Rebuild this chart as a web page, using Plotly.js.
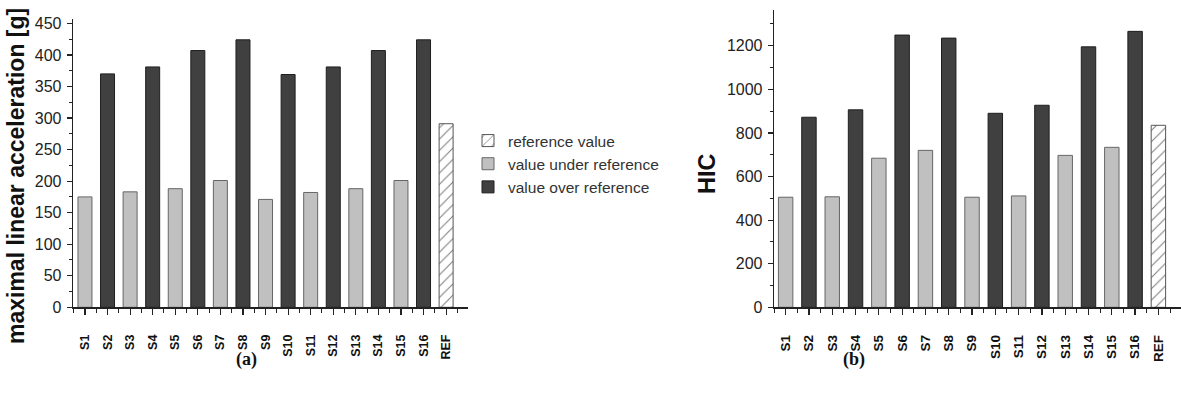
<!DOCTYPE html>
<html>
<head>
<meta charset="utf-8">
<script src="https://cdn.plot.ly/plotly-3.0.1.min.js"></script>
<style>html,body{margin:0;padding:0;background:#fff;}#chart{width:1181px;height:397px;}</style>
</head>
<body>
<div id="chart"></div>
<script>
const categories = ['S1','S2','S3','S4','S5','S6','S7','S8','S9','S10','S11','S12','S13','S14','S15','S16','REF'];
const barGroup = ['under','over','under','over','under','over','under','over','under','over','under','over','under','over','under','over','ref'];
const accelValues = [175,370,183,381,188,407,201,424,171,369,182,381,188,407,201,424,291];
const hicValues = [505,872,507,906,684,1249,720,1235,505,890,511,927,697,1195,734,1266,835];
const groupKeys = ['ref','under','over'];
const groupNames = ['reference value','value under reference','value over reference'];
const accelTitle = 'maximal linear acceleration [g]';
const hicTitle = 'HIC';
const panelLabels = ['(a)','(b)'];

const W = 1181, H = 397;
const px = x => x / W;
const py = y => 1 - y / H;
const SANS = 'Arial, "Liberation Sans", sans-serif';
const SERIF = '"Times New Roman", "Liberation Serif", serif';

const styles = {
  ref:   {color:'#ffffff', line:{color:'#555555', width:1}, pattern:{shape:'/', fgcolor:'#777777', bgcolor:'#ffffff', size:8, solidity:0.12}},
  under: {color:'#c0c0c0', line:{color:'#666666', width:1}},
  over:  {color:'#404040', line:{color:'#1e1e1e', width:1}}
};

const idx = categories.map((_, i) => i);
const traces = [];
[[accelValues,'x','y',true],[hicValues,'x2','y2',false]].forEach(([vals, xa, ya, showLeg]) => {
  groupKeys.forEach((g, gi) => {
    const xs = [], ys = [];
    idx.forEach(i => { if (barGroup[i] === g) { xs.push(i); ys.push(vals[i]); } });
    traces.push({
      type:'bar', x:xs, y:ys, xaxis:xa, yaxis:ya, width:0.62,
      name:groupNames[gi], showlegend:showLeg, legendrank:gi+1,
      marker:styles[g], hoverinfo:'x+y'
    });
  });
});

const xBase = (domain, range, fontSize) => ({
  domain, range, type:'linear', tickmode:'array', tickvals:idx, ticktext:categories,
  tickangle:-90, ticks:'outside', ticklen:6, tickwidth:1.2, tickcolor:'#222',
  minor:{dtick:0.5, tick0:0, ticks:'outside', ticklen:4, tickwidth:1, tickcolor:'#222'},
  showline:true, linecolor:'#222', linewidth:1.3, showgrid:false, zeroline:false,
  tickfont:{family:SANS, size:fontSize, color:'#111', weight:'bold'}, ticklabelstandoff:15, fixedrange:true
});
const yBase = (domain, range, dtick, minorDtick, anchor) => ({
  domain, range, dtick, anchor, ticks:'outside', ticklen:5, tickwidth:1.2, tickcolor:'#222',
  minor:{dtick:minorDtick, ticks:'outside', ticklen:3, tickwidth:1, tickcolor:'#222'},
  showline:true, linecolor:'#222', linewidth:1.3, showgrid:false, zeroline:false,
  tickfont:{family:SANS, size:16, color:'#222'}, ticklabelstandoff:2, fixedrange:true
});

const layout = {
  width:W, height:H, margin:{l:0,r:0,t:0,b:0}, paper_bgcolor:'#fff', plot_bgcolor:'#fff',
  barmode:'overlay', showlegend:true,
  xaxis: Object.assign(xBase([px(73), px(468)], [-0.53, 16.97], 12.5), {anchor:'y'}),
  yaxis: yBase([py(307.3), py(19)], [0, 457], 50, 25, 'x'),
  xaxis2: Object.assign(xBase([px(774), 1], [-0.5, 16.97], 13.5), {anchor:'y2'}),
  yaxis2: yBase([py(307.3), py(10)], [0, 1364], 200, 100, 'x2'),
  legend:{x:px(468), y:py(124), xanchor:'left', yanchor:'top', bgcolor:'rgba(0,0,0,0)',
    font:{family:SANS, size:15.5, color:'#333'}, itemwidth:30, tracegroupgap:0, traceorder:'normal'},
  annotations:[
    {text:accelTitle, xref:'paper', yref:'paper', x:px(15.5), y:py(176.5), textangle:-90, showarrow:false,
     font:{family:SANS, size:23, color:'#111', weight:'bold'}, xanchor:'center', yanchor:'middle'},
    {text:hicTitle, xref:'paper', yref:'paper', x:px(707), y:py(174), textangle:-90, showarrow:false,
     font:{family:SANS, size:23.5, color:'#111', weight:'bold'}, xanchor:'center', yanchor:'middle'},
    {text:panelLabels[0], xref:'paper', yref:'paper', x:px(246), y:py(359), showarrow:false,
     font:{family:SERIF, size:18, color:'#111', weight:'bold'}, xanchor:'center', yanchor:'middle'},
    {text:panelLabels[1], xref:'paper', yref:'paper', x:px(854), y:py(359), showarrow:false,
     font:{family:SERIF, size:18, color:'#111', weight:'bold'}, xanchor:'center', yanchor:'middle'}
  ]
};

Plotly.newPlot('chart', traces, layout, {displayModeBar:false, staticPlot:true});
</script>
</body>
</html>
